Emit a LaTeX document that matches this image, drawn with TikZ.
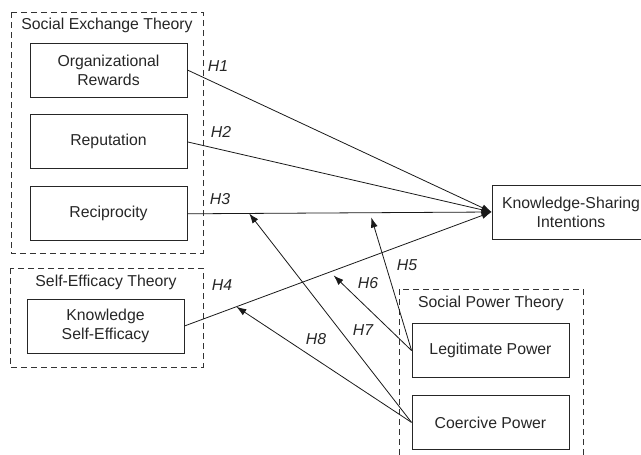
\documentclass[tikz,border=0pt]{standalone}
\usepackage{fontspec}
\setmainfont{Liberation Sans}
\usetikzlibrary{positioning,calc,arrows.meta}

\begin{document}
\begin{tikzpicture}[x = 1pt, y = -1pt,
  concept/.style = {draw = black!85, line width = 0.9pt, shape = rectangle, minimum width = 157pt, minimum height = 54pt, align = center, text = black!85, font = \fontsize{15.8}{19}\selectfont},
  theory/.style = {draw = black!80, line width = 0.9pt, dash pattern = on 6pt off 4pt},
  title/.style = {text = black!85, font = \fontsize{15.8}{19}\selectfont},
  hyp/.style = {text = black!85, font = \fontsize{15.8}{19}\selectfont\itshape},
  link/.style = {draw = black!90, line width = 0.8pt, -{Latex[length = 10pt, width = 7pt]}}]
\useasboundingbox (0,0) rectangle (641,455);

% theory frames
\draw[theory] (11,12) rectangle (203,253);
\draw[theory] (10,268) rectangle (203,367);
\draw[theory] (399,289) rectangle (583,470);
\node[title] (set) at (107,25) {Social Exchange Theory};
\node[title] (sef) at (106,282) {Self-Efficacy Theory};
\node[title] (spt) at (491,303) {Social Power Theory};

% constructs
\node[concept] (org) at (108.5,70) {Organizational\\Rewards};
\node[concept, below = 17pt of org] (rep) {Reputation};
\node[concept, below = 17pt of rep] (rec) {Reciprocity};
\node[concept] (kse) at (105.5,326) {Knowledge\\Self-Efficacy};
\node[concept, minimum width = 158pt] (ksi) at (571,212) {Knowledge-Sharing\\Intentions};
\node[concept] (lp) at (490.5,350.5) {Legitimate Power};
\node[concept, below = 17pt of lp] (cp) {Coercive Power};

% direct effects
\draw[link] (org.east) -- (ksi.west);
\draw[link] (rep.east) -- (ksi.west);
\draw[link] (rec.east) -- (ksi.west);
\draw[link] (kse.east) -- (ksi.west);

% moderating effects
\coordinate (m5) at ($(rec.east)!0.6!(ksi.west)$);
\coordinate (m7) at ($(rec.east)!0.203!(ksi.west)$);
\coordinate (m6) at ($(kse.east)!0.474!(ksi.west)$);
\coordinate (m8) at ($(kse.east)!0.169!(ksi.west)$);
\draw[link, shorten > = 5pt] (lp.west) -- (m5);
\draw[link, shorten > = 5pt] (lp.west) -- (m6);
\draw[link] (cp.west) -- (m7);
\draw[link] (cp.west) -- (m8);

\node[hyp] (h1) at (218,66) {H1};
\node[hyp] (h2) at (221,132) {H2};
\node[hyp] (h3) at (220,199) {H3};
\node[hyp] (h4) at (222,285) {H4};
\node[hyp] (h5) at (407,265) {H5};
\node[hyp] (h6) at (368,283) {H6};
\node[hyp] (h7) at (363,330) {H7};
\node[hyp] (h8) at (316,339) {H8};
\end{tikzpicture}
\end{document}
